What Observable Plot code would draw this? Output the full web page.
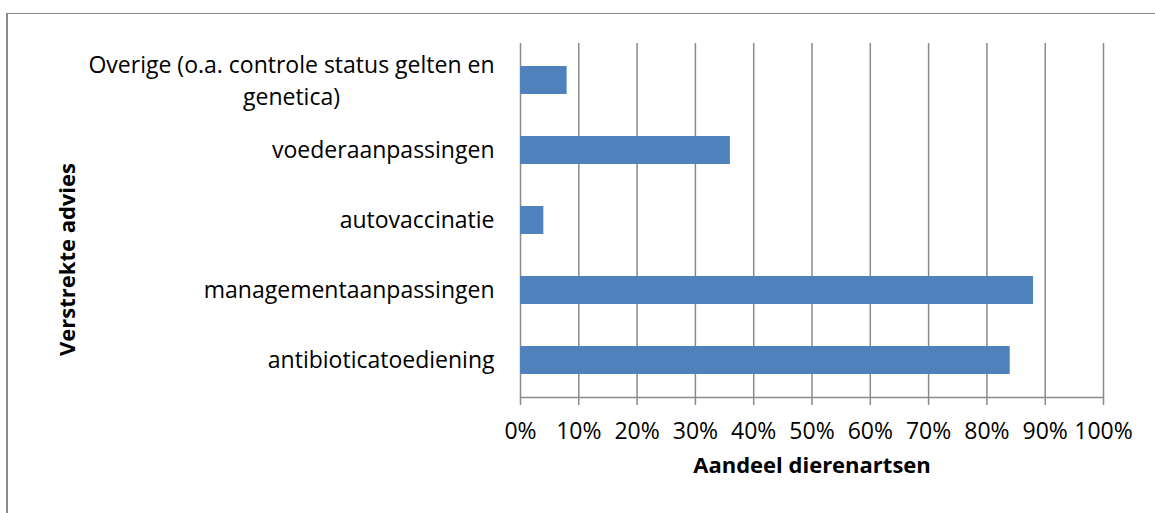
<!DOCTYPE html>
<html>
<head>
<meta charset="utf-8">
<script src="https://cdn.jsdelivr.net/npm/d3@7"></script>
<script src="https://cdn.jsdelivr.net/npm/@observablehq/plot@0.6"></script>
<style>
  html, body { margin: 0; padding: 0; background: #fff; overflow: hidden; }
  #wrap { position: relative; width: 1155px; height: 513px; overflow: hidden; }
  #border { position: absolute; left: 6px; top: 13px; width: 1300px; height: 700px;
            border-left: 2px solid #8a8a8a; border-top: 1.5px solid #8a8a8a; box-sizing: border-box; }
  #chart { position: absolute; left: 0; top: 0; }
</style>
</head>
<body>
<div id="wrap"><div id="border"></div><div id="chart"></div></div>
<script>
const categories = [
  "Overige (o.a. controle status gelten en\ngenetica)",
  "voederaanpassingen",
  "autovaccinatie",
  "managementaanpassingen",
  "antibioticatoediening"
];
const values = [0.08, 0.36, 0.04, 0.88, 0.84];
const xTicks = [0, 0.1, 0.2, 0.3, 0.4, 0.5, 0.6, 0.7, 0.8, 0.9, 1.0];
const xTitle = "Aandeel dierenartsen";
const yTitle = "Verstrekte advies";

const data = categories.map((c, i) => ({category: c, value: values[i]}));
const multiLine = categories.filter(c => c.includes("\n"));
const singleLine = categories.filter(c => !c.includes("\n"));

const FONT = "'Open Sans', sans-serif";
const FS = 23;
const TFS = 22;
const ctx = document.createElement("canvas").getContext("2d");
ctx.font = `${FS}px 'Open Sans'`;
const widestLine = (s) => Math.max(...s.split("\n").map(l => ctx.measureText(l).width));
const gap = 26;
const grid = "#8a8a8a";

const chart = Plot.plot({
  width: 1155,
  height: 513,
  marginLeft: 520,
  marginRight: 52,
  marginTop: 43,
  marginBottom: 116,
  style: {fontFamily: FONT, fontSize: FS + "px", color: "#000", background: "transparent"},
  x: {domain: [0, 1]},
  y: {domain: categories, paddingInner: 0.6, paddingOuter: 0.3, axis: null},
  marks: [
    Plot.ruleX(xTicks, {stroke: grid, strokeWidth: 1.5}),
    Plot.frame({anchor: "bottom", stroke: grid, strokeWidth: 1.5}),
    Plot.barX(data, {x: "value", y: "category", fill: "#4f81bd"}),
    Plot.axisX({ticks: xTicks, tickFormat: d3.format(".0%"), tickSize: 8, tickPadding: 17,
                stroke: grid, strokeWidth: 1.5, strokeOpacity: 1, label: null, fontSize: FS}),
    Plot.axisY({ticks: singleLine, tickSize: 0, tickPadding: gap, label: null, fontSize: FS}),
    ...multiLine.map(c => Plot.text([c], {
      y: d => d, frameAnchor: "left", textAnchor: "middle",
      dx: -(gap + widestLine(c) / 2), dy: -2, lineHeight: 1.43, fontSize: FS, fill: "#000"
    })),
    Plot.text([xTitle], {frameAnchor: "bottom", textAnchor: "middle", dy: 75, fontWeight: "bold", fontSize: TFS, fill: "#000"}),
    Plot.text([yTitle], {frameAnchor: "left", textAnchor: "middle", dx: -453, dy: 39, rotate: -90, fontWeight: "bold", fontSize: TFS, fill: "#000"})
  ]
});
document.getElementById("chart").appendChild(chart);
</script>
</body>
</html>
